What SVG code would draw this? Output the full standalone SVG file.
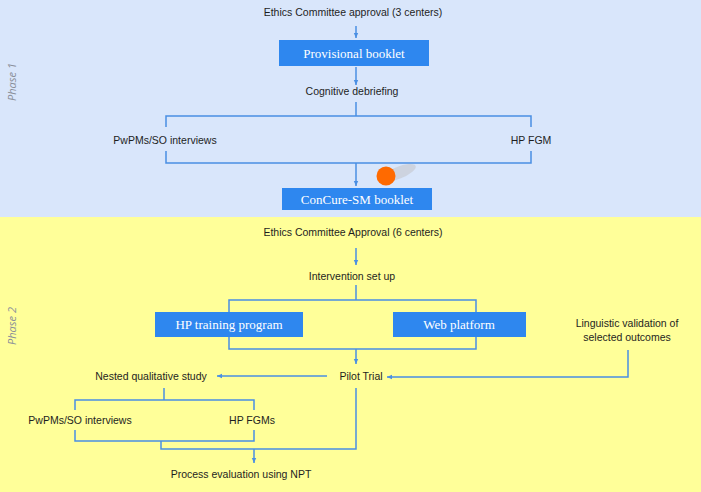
<svg xmlns="http://www.w3.org/2000/svg" width="701" height="492" viewBox="0 0 701 492">
<defs>
<style>
.t{font-family:"Liberation Sans",Arial,sans-serif;font-size:10.5px;fill:#1e1e1e;text-anchor:middle}
.b{font-family:"Liberation Serif","Times New Roman",serif;font-size:13px;fill:#ffffff;text-anchor:middle}
.bx{fill:#2e87ef}
.ph{font-family:"Open Sans","Liberation Sans",sans-serif;font-size:11px;font-style:italic;fill:#8a8f99;text-anchor:middle}
.c{fill:none;stroke:#4a8fe3;stroke-width:1.5}
</style>
<marker id="a" markerWidth="6" markerHeight="6" refX="5" refY="3" orient="auto" markerUnits="userSpaceOnUse">
<path d="M0,0.8 L5,3 L0,5.2 Z" fill="#4a8fe3"/>
</marker>
</defs>
<rect x="0" y="0" width="701" height="217" fill="#d9e6fb"/>
<rect x="0" y="217" width="701" height="275" fill="#ffff99"/>
<text class="ph" transform="translate(16,82) rotate(-90)">Phase 1</text>
<text class="ph" transform="translate(16,326) rotate(-90)">Phase 2</text>

<g id="connectors">
<line class="c" x1="356" y1="26" x2="356" y2="38" marker-end="url(#a)"/>
<line class="c" x1="356" y1="67" x2="356" y2="85" marker-end="url(#a)"/>
<line class="c" x1="356" y1="102" x2="356" y2="116"/>
<path class="c" d="M166,127 V116 H531 V127"/>
<path class="c" d="M166,151 V163 H531 V151"/>
<line class="c" x1="356" y1="163" x2="356" y2="186" marker-end="url(#a)"/>
<line class="c" x1="356" y1="248" x2="356" y2="265" marker-end="url(#a)"/>
<line class="c" x1="356" y1="285" x2="356" y2="300"/>
<path class="c" d="M229,312 V300 H476 V312"/>
<path class="c" d="M229,337 V349 H476 V337"/>
<line class="c" x1="356" y1="349" x2="356" y2="364" marker-end="url(#a)"/>
<path class="c" d="M628,350 V377 H387" marker-end="url(#a)"/>
<line class="c" x1="327" y1="376" x2="217" y2="376" marker-end="url(#a)"/>
<line class="c" x1="164" y1="388" x2="164" y2="400"/>
<path class="c" d="M75,410 V400 H254 V410"/>
<path class="c" d="M75,430 V441 H254 V430"/>
<path class="c" d="M161,441 V449 H356 V388"/>
<line class="c" x1="254" y1="449" x2="254" y2="463" marker-end="url(#a)"/>
</g>

<g id="ethics1"><text class="t" x="353" y="16">Ethics Committee approval (3 centers)</text></g>
<g id="provisional"><rect class="bx" x="279" y="40" width="150" height="26"/><text class="b" x="354" y="57.5">Provisional booklet</text></g>
<g id="cognitive"><text class="t" x="352" y="95">Cognitive debriefing</text></g>
<g id="pwpms1"><text class="t" x="165" y="144">PwPMs/SO interviews</text></g>
<g id="hpfgm1"><text class="t" x="531" y="144">HP FGM</text></g>
<g id="concure"><rect class="bx" x="282" y="188" width="150" height="22"/><text class="b" x="357" y="203.5">ConCure-SM booklet</text></g>
<g id="dot">
<ellipse cx="398" cy="173" rx="19" ry="6" fill="#c9ced8" opacity="0.8" transform="rotate(-22 398 173)"/>
<circle cx="386" cy="176" r="9.5" fill="#ff6a00"/>
</g>

<g id="ethics2"><text class="t" x="353" y="236">Ethics Committee Approval (6 centers)</text></g>
<g id="setup"><text class="t" x="352" y="280">Intervention set up</text></g>
<g id="training"><rect class="bx" x="155" y="312" width="148" height="25"/><text class="b" x="229" y="329">HP training program</text></g>
<g id="web"><rect class="bx" x="393" y="312" width="133" height="25"/><text class="b" x="459" y="329">Web platform</text></g>
<g id="linguistic"><text class="t" x="627" y="327">Linguistic validation of</text><text class="t" x="627" y="341">selected outcomes</text></g>
<g id="pilot"><text class="t" x="361" y="380">Pilot Trial</text></g>
<g id="nested"><text class="t" x="151" y="380">Nested qualitative study</text></g>
<g id="pwpms2"><text class="t" x="80" y="424">PwPMs/SO interviews</text></g>
<g id="hpfgm2"><text class="t" x="252" y="424">HP FGMs</text></g>
<g id="process"><text class="t" x="241" y="478">Process evaluation using NPT</text></g>
</svg>
